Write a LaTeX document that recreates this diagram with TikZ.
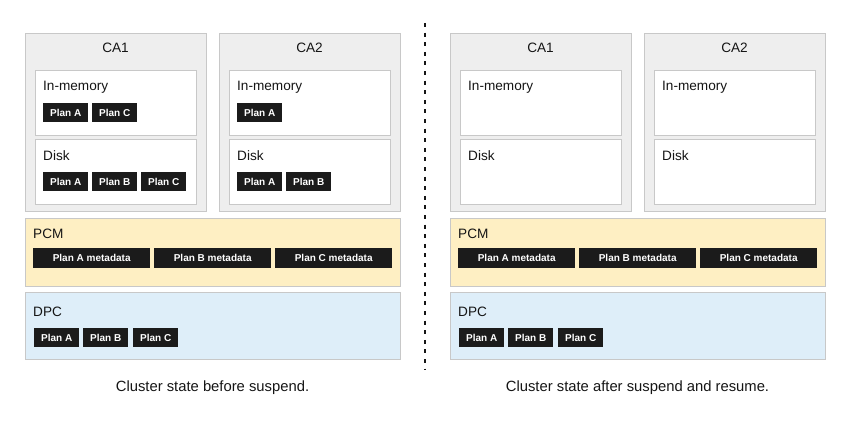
\documentclass[tikz,border=0pt]{standalone}
\usepackage{fontspec}
\setmainfont{Liberation Sans}
\definecolor{caGray}{HTML}{EEEEEE}
\definecolor{edgeGray}{HTML}{C8C8C8}
\definecolor{pcmYellow}{HTML}{FEEFC3}
\definecolor{dpcBlue}{HTML}{DEEEF9}
\definecolor{chipBlack}{HTML}{1B1B1B}
\definecolor{inkGray}{HTML}{151515}

\tikzset{
  box/.style={draw=edgeGray, line width=1pt, anchor=north west, inner sep=0pt},
  cabox/.style={box, fill=caGray, minimum width=181pt, minimum height=178pt},
  subbox/.style={box, fill=white, minimum width=161pt, minimum height=65pt},
  layerbox/.style={box, minimum width=375pt, minimum height=67pt},
  boxtitle/.style={anchor=west, inner sep=0pt, text=inkGray, font=\fontsize{13.6}{16}\selectfont},
  chip/.style={anchor=north west, inner sep=0pt, fill=chipBlack, text=white,
               minimum height=19pt, minimum width=45pt,
               font=\fontsize{10}{11}\selectfont\bfseries},
  metachip/.style={chip, minimum width=117pt, minimum height=20pt},
  caption/.style={text=inkGray, font=\fontsize{14.8}{17}\selectfont},
}

\begin{document}
\begin{tikzpicture}[x=1pt, y=-1pt]
  \useasboundingbox (0,0) rectangle (850,428);

  % both panels share the same frame
  \foreach \dx/\p in {0/L, 425/R} {
    \begin{scope}[xshift=\dx pt]
      % cluster agents
      \foreach \cx/\ca in {25/CA1, 219/CA2} {
        \node[cabox] (\ca\p) at (\cx,33) {};
        \node[boxtitle, anchor=center] (\ca\p-name) at (\cx+90.5,48) {\ca};
        \node[subbox] (mem-\ca\p) at (\cx+10,70) {};
        \node[subbox] (disk-\ca\p) at (\cx+10,139) {};
        \node[boxtitle] (mem-\ca\p-name) at (\cx+18,87.5) {In-memory};
        \node[boxtitle] (disk-\ca\p-name) at (\cx+18,156) {Disk};
      }
      % PCM layer
      \node[layerbox, fill=pcmYellow, minimum height=68pt] (pcm\p) at (25,218) {};
      \node[boxtitle] (pcm\p-name) at (33,234) {PCM};
      \foreach \mx/\plan in {33/A, 154/B, 275/C}
        \node[metachip] (meta\plan\p) at (\mx,248) {Plan \plan{} metadata};
      % DPC layer
      \node[layerbox, fill=dpcBlue] (dpc\p) at (25,292) {};
      \node[boxtitle] (dpc\p-name) at (33,312) {DPC};
      \foreach \mx/\plan in {34/A, 83/B, 133/C}
        \node[chip] (dpc\plan\p) at (\mx,328) {Plan \plan};
    \end{scope}
  }

  % plans still cached before suspend
  \node[chip] (memA1) at (43,103) {Plan A};
  \node[chip] (memC1) at (92,103) {Plan C};
  \node[chip] (diskA1) at (43,172) {Plan A};
  \node[chip] (diskB1) at (92,172) {Plan B};
  \node[chip] (diskC1) at (141,172) {Plan C};
  \node[chip] (memA2) at (237,103) {Plan A};
  \node[chip] (diskA2) at (237,172) {Plan A};
  \node[chip] (diskB2) at (286,172) {Plan B};

  % separator
  \coordinate (sepTop) at (425,23);
  \coordinate (sepBot) at (425,370);
  \draw[inkGray, line width=2pt, dash pattern=on 4pt off 5.6pt] (sepTop) -- (sepBot);

  % captions
  \node[caption] (capBefore) at (212.5,387.5) {Cluster state before suspend.};
  \node[caption] (capAfter) at (637.5,387.5) {Cluster state after suspend and resume.};
\end{tikzpicture}
\end{document}
